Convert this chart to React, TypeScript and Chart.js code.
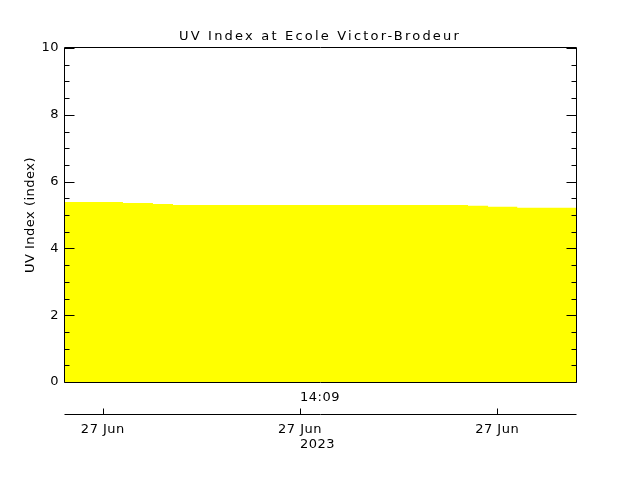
import { useEffect, useRef } from 'react';
import { Chart, registerables } from 'chart.js';

Chart.register(...registerables);

// ---- data ----
const CHART_TITLE = 'UV Index at Ecole Victor-Brodeur';
const Y_TITLE = 'UV Index (index)';
// sample times in minutes since midnight (27 Jun 2023)
const TIMES = [843.04, 844.51, 845.27, 845.78, 853.26, 853.77, 854.51, 856.0];
const UV = [5.39, 5.36, 5.33, 5.3, 5.28, 5.25, 5.22, 5.22];
const X_TICKS = [844, 849, 854];
const DATE_LABELS = ['27 Jun', '27 Jun', '27 Jun'];
const YEAR_LABEL = '2023';
const TIME_LABEL = '14:09';
const Y_MIN = 0;
const Y_MAX = 10;
const Y_STEP = 0.5;
const Y_LABEL_EVERY = 2;

const FONT = { family: 'DejaVu Sans', size: 13, weight: 'normal' };
const INK = '#000000';

const spacingPlugin = {
  id: 'spacing',
  beforeUpdate(chart: any) {
    chart.ctx.letterSpacing = '0.5px';
  },
  beforeDraw(chart: any) {
    chart.ctx.letterSpacing = '2.2px';
  },
  beforeDatasetsDraw(chart: any) {
    chart.ctx.letterSpacing = '0.5px';
  },
};

const framePlugin = {
  id: 'frame',
  afterDraw(chart: any) {
    const { ctx, chartArea: a, scales } = chart;
    const y = scales.y;
    const x2 = scales.x2;
    const L = Math.round(a.left) - 0.5;
    const R = Math.round(a.right) + 0.5;
    const T = Math.round(a.top) - 0.5;
    const B = Math.round(a.bottom) + 0.5;
    ctx.save();
    ctx.strokeStyle = INK;
    ctx.lineWidth = 1;
    ctx.beginPath();
    ctx.rect(L, T, R - L, B - T);
    // y ticks, inward on both sides
    y.ticks.forEach((t: any) => {
      const py = Math.round(y.getPixelForValue(t.value)) + 0.5;
      const len = t.value % Y_LABEL_EVERY === 0 ? 10 : 5;
      ctx.moveTo(L, py);
      ctx.lineTo(L + len, py);
      ctx.moveTo(R, py);
      ctx.lineTo(R - len, py);
    });
    // separate time axis below the plot
    const ay = Math.round(x2.top) + 0.5;
    ctx.moveTo(L, ay);
    ctx.lineTo(R, ay);
    x2.ticks.forEach((t: any) => {
      const px = Math.round(x2.getPixelForValue(t.value)) + 0.5;
      ctx.moveTo(px, ay);
      ctx.lineTo(px, ay - 6);
    });
    ctx.stroke();
    ctx.restore();
  },
};

function timeAxis(
  label: (v: number, i: number) => string,
  height: number,
  padding: number,
  align: string,
  xMin: number,
  xMax: number
) {
  return {
    type: 'linear',
    position: 'bottom',
    min: xMin,
    max: xMax,
    afterBuildTicks: (s: any) => {
      s.ticks = X_TICKS.map((v) => ({ value: v }));
    },
    ticks: {
      autoSkip: false,
      maxRotation: 0,
      color: INK,
      font: FONT,
      padding,
      align,
      z: 1,
      callback: (v: any, i: number) => label(Number(v), i),
    },
    grid: { display: false, drawTicks: false, z: 1 },
    border: { display: false },
    afterFit: (s: any) => {
      s.height = height;
    },
  };
}

export default function App() {
  const ref = useRef<HTMLCanvasElement | null>(null);

  useEffect(() => {
    const canvas = ref.current;
    if (!canvas) return;
    const xMin = TIMES[0];
    const xMax = TIMES[TIMES.length - 1];
    const chart = new Chart(canvas, {
      type: 'line',
      data: {
        datasets: [
          {
            data: TIMES.map((t, i) => ({ x: t, y: UV[i] })),
            stepped: 'before',
            fill: 'origin',
            backgroundColor: '#ffff00',
            borderColor: 'rgba(0,0,0,0)',
            borderWidth: 1,
            pointRadius: 0,
            xAxisID: 'x',
            yAxisID: 'y',
          } as any,
        ],
      },
      options: {
        animation: false,
        responsive: false,
        events: [],
        layout: { padding: 0 },
        plugins: {
          legend: { display: false },
          tooltip: { enabled: false },
          title: {
            display: true,
            text: CHART_TITLE,
            color: INK,
            font: FONT,
            padding: { top: 29, bottom: 3.4 },
          },
        },
        scales: {
          x: timeAxis((v) => (v === X_TICKS[1] ? TIME_LABEL : ''), 32, 8, 'start', xMin, xMax),
          x2: timeAxis((_v, i) => DATE_LABELS[i], 22, 8, 'center', xMin, xMax),
          x3: timeAxis((v) => (v === X_TICKS[1] ? YEAR_LABEL : ''), 44, 1, 'start', xMin, xMax),
          y: {
            type: 'linear',
            position: 'left',
            min: Y_MIN,
            max: Y_MAX,
            ticks: {
              stepSize: Y_STEP,
              autoSkip: false,
              color: INK,
              font: FONT,
              padding: 6,
              z: 1,
              callback: (v: any) => (Number(v) % Y_LABEL_EVERY === 0 ? String(v) : ''),
            },
            grid: { display: false, drawTicks: false, z: 1 },
            border: { display: false },
            title: {
              display: true,
              text: Y_TITLE,
              color: INK,
              font: FONT,
              padding: { top: 23, bottom: 0 },
            },
            afterFit: (s: any) => {
              s.width = 65;
            },
          },
          yRight: {
            type: 'linear',
            position: 'right',
            min: Y_MIN,
            max: Y_MAX,
            ticks: { display: false },
            grid: { display: false, drawTicks: false },
            border: { display: false },
            afterFit: (s: any) => {
              s.width = 64;
            },
          },
        },
      } as any,
      plugins: [spacingPlugin, framePlugin],
    });
    return () => chart.destroy();
  }, []);

  return (
    <div style={{ position: 'absolute', left: 0, top: 0, width: 640, height: 480, background: '#fff' }}>
      <canvas ref={ref} width={640} height={480} />
    </div>
  );
}
